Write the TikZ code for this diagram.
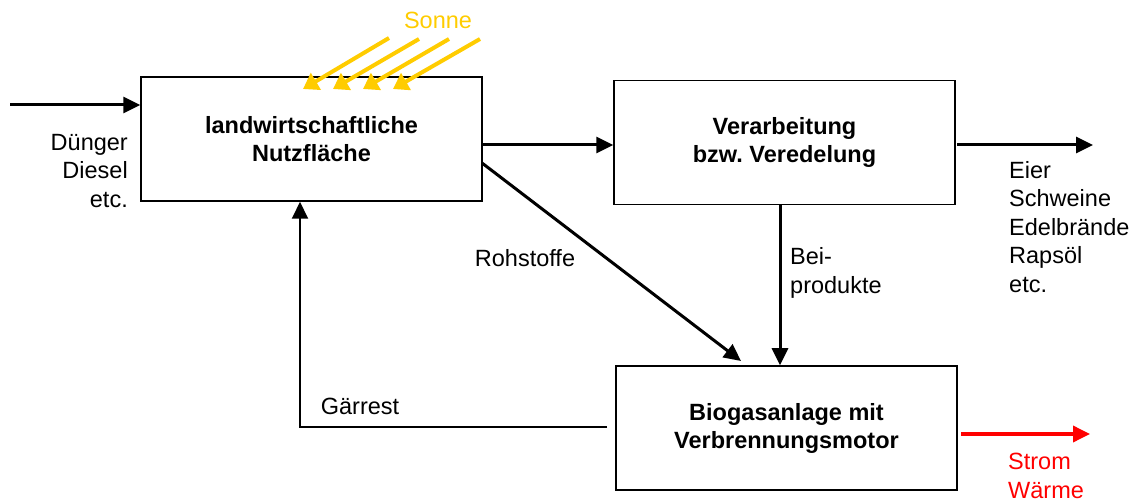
\documentclass[tikz,border=0pt]{standalone}
\usepackage{fontspec}
\setmainfont{Liberation Sans}
\usetikzlibrary{arrows.meta}
\definecolor{sun}{RGB}{255,204,0}
\definecolor{power}{RGB}{255,0,0}
\frenchspacing

\begin{document}
\begin{tikzpicture}[x=1pt,y=-1pt,
  box/.style={draw, line width=1.5pt, minimum width=341pt, minimum height=124pt,
    font=\bfseries\fontsize{23.5}{28}\selectfont, align=center, inner sep=0pt},
  lbl/.style={font=\fontsize{23.5}{28.5}\selectfont, inner sep=0pt},
  flow/.style={line width=3pt, -{Triangle[length=17pt,width=16pt]}},
  ray/.style={draw=sun, line width=4pt, -{Triangle[length=15pt,width=19pt]}},
  outred/.style={draw=power, line width=3.5pt, -{Triangle[length=17pt,width=16pt]}}]

\useasboundingbox (0,0) rectangle (1135,502);

% process boxes
\node[box] (feld) at (311.5,139) {landwirtschaftliche\\Nutzfläche};
\node[box] (verarb) at (784.5,142.5) {Verarbeitung\\bzw. Veredelung};
\node[box] (biogas) at (786.5,428) {Biogasanlage mit\\Verbrennungsmotor};

% inputs to the field
\coordinate (zufuhr) at (10,105);
\draw[flow] (zufuhr) -- (zufuhr -| feld.west);
\node[lbl, anchor=east, align=right] (duenger) at (128,171) {Dünger\\Diesel\\etc.};

% sunlight
\node[lbl, text=sun, anchor=center] (sonne) at (438,20) {Sonne};
\coordinate (s1a) at (389,38); \coordinate (s1b) at (303,89);
\coordinate (s2a) at (419,39); \coordinate (s2b) at (333,89);
\coordinate (s3a) at (449,39); \coordinate (s3b) at (363,89);
\coordinate (s4a) at (480,39); \coordinate (s4b) at (393,89);
\draw[ray] (s1a) -- (s1b);
\draw[ray] (s2a) -- (s2b);
\draw[ray] (s3a) -- (s3b);
\draw[ray] (s4a) -- (s4b);

% field -> processing
\coordinate (fv) at (482,145);
\draw[flow] (fv) -- (fv -| verarb.west);

% raw materials -> biogas plant
\coordinate (roh1) at (482,163);
\coordinate (roh2) at (741,361);
\draw[flow] (roh1) -- (roh2);
\node[lbl] (rohstoffe) at (525,258) {Rohstoffe};

% by-products -> biogas plant
\coordinate (bp) at (780,0);
\draw[flow] (bp |- verarb.south) -- (bp |- biogas.north);
\node[lbl, anchor=west, align=left] (beiprod) at (790,273) {Bei-\\produkte};

% digestate back to the field
\coordinate (gr1) at (607,427);
\coordinate (gr2) at (300,427);
\draw[line width=2pt, -{Triangle[length=17pt,width=16pt]}] (gr1) -- (gr2) -- (gr2 |- feld.south);
\node[lbl] (gaerrest) at (360,406) {Gärrest};

% products
\coordinate (prod) at (957,145);
\draw[flow] (prod) -- (1093,145);
\node[lbl, anchor=west, align=left] (produkte) at (1009,227) {Eier\\Schweine\\Edelbrände\\Rapsöl\\etc.};

% energy output
\coordinate (energie) at (961,434);
\draw[outred] (energie) -- (1090,434);
\node[lbl, text=power, anchor=west, align=left] (strom) at (1008,476) {Strom\\Wärme};
\end{tikzpicture}
\end{document}
